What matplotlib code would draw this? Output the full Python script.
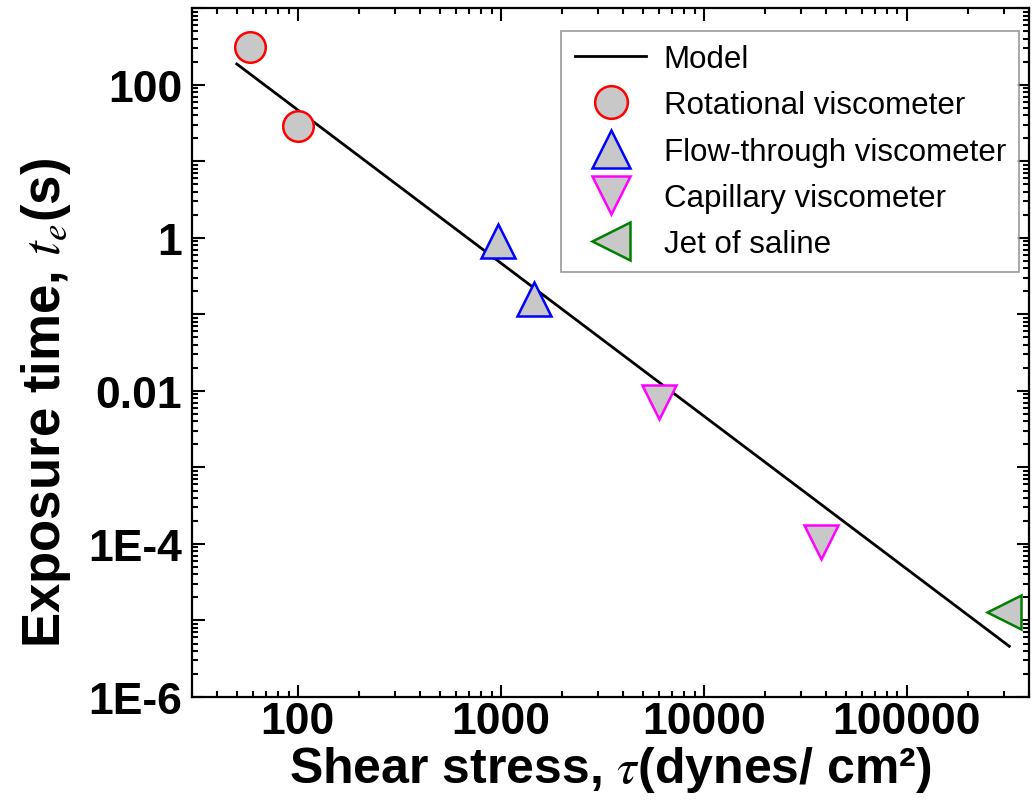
import matplotlib
matplotlib.use("Agg")
import matplotlib.pyplot as plt
from matplotlib.ticker import FixedLocator, FixedFormatter, LogLocator, NullFormatter

plt.rcParams["font.family"] = ["Liberation Sans", "DejaVu Sans"]
plt.rcParams["mathtext.fontset"] = "stix"

# data
rot_x = [58, 100]
rot_y = [314, 29]
flow_x = [970, 1460]
flow_y = [0.91, 0.16]
cap_x = [6000, 37700]
cap_y = [0.0072, 1.06e-4]
jet_x = [300000]
jet_y = [1.3e-5]
model_x = [50, 320000]
model_y = [188, 4.6e-6]

y_major = [1e-6, 1e-5, 1e-4, 1e-3, 1e-2, 1e-1, 1, 10, 100, 1000]
y_labels = ["1E-6", "", "1E-4", "", "0.01", "", "1", "", "100", ""]
x_major = [100, 1000, 10000, 100000]
x_labels = ["100", "1000", "10000", "100000"]

fig = plt.figure(figsize=(10.33, 8.12), dpi=100)
ax = fig.add_axes([0.1856, 0.1404, 0.8105, 0.848])

gray = "#c8c8c8"
ax.plot(model_x, model_y, color="black", lw=2, label="Model")
ax.plot(rot_x, rot_y, "o", ms=22, mfc=gray, mec="red", mew=1.8, label="Rotational viscometer")
ax.plot(flow_x, flow_y, "^", ms=25, mfc=gray, mec="blue", mew=1.8, label="Flow-through viscometer")
ax.plot(cap_x, cap_y, "v", ms=25, mfc=gray, mec="magenta", mew=1.8, label="Capillary viscometer")
ax.plot(jet_x, jet_y, "<", ms=25, mfc=gray, mec="green", mew=1.8, label="Jet of saline")

ax.set_xscale("log")
ax.set_yscale("log")
ax.set_xlim(30, 400000)
ax.set_ylim(1e-6, 1000)

ax.xaxis.set_major_locator(FixedLocator(x_major))
ax.xaxis.set_major_formatter(FixedFormatter(x_labels))
ax.yaxis.set_major_locator(FixedLocator(y_major))
ax.yaxis.set_major_formatter(FixedFormatter(y_labels))
for a in (ax.xaxis, ax.yaxis):
    a.set_minor_locator(LogLocator(base=10, subs=range(2, 10), numticks=20))
    a.set_minor_formatter(NullFormatter())

ax.tick_params(which="both", direction="in", top=True, right=True, width=1.5)
ax.tick_params(which="major", length=9, labelsize=32)
ax.tick_params(axis="x", which="major", pad=3)
ax.tick_params(axis="y", which="major", pad=7)
ax.tick_params(which="minor", length=4)
for lab in ax.get_xticklabels() + ax.get_yticklabels():
    lab.set_fontweight("bold")
for s in ax.spines.values():
    s.set_linewidth(1.6)

ax.set_xlabel(r"Shear stress, $\tau$(dynes/ cm²)", fontsize=36, fontweight="bold")
ax.set_ylabel(r"Exposure time, $t_e$(s)", fontsize=38, fontweight="bold")
ax.xaxis.set_label_coords(0.5, -0.068)
ax.yaxis.set_label_coords(-0.142, 0.4285)

leg = ax.legend(loc="upper right", bbox_to_anchor=(1019 / 1033, 1 - 32 / 812),
                bbox_transform=fig.transFigure, borderaxespad=0,
                fontsize=22.5, frameon=True, fancybox=False, edgecolor="#808080",
                handlelength=2.3, labelspacing=0.52, borderpad=0.42,
                handletextpad=0.55, markerscale=1.07)
leg.get_frame().set_linewidth(1.2)

fig.savefig("out.png", dpi=100)
